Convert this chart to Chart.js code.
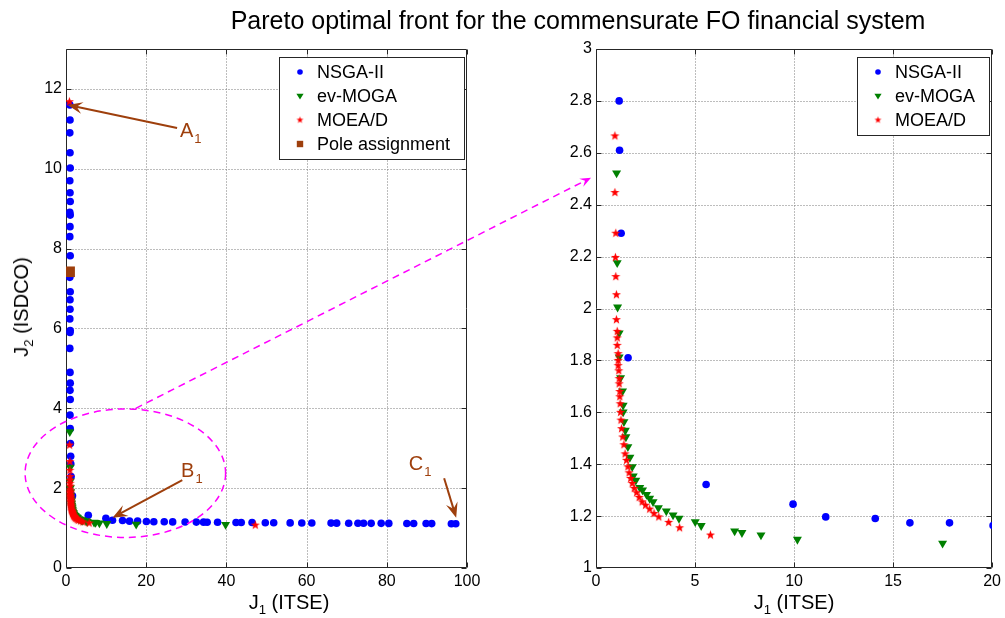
<!DOCTYPE html>
<html>
<head>
<meta charset="utf-8">
<title>Pareto optimal front</title>
<script src="https://cdn.jsdelivr.net/npm/chart.js@4.4.1/dist/chart.umd.min.js"></script>
<style>
  html, body { margin: 0; padding: 0; background: #fff; }
  #page { position: relative; width: 1005px; height: 618px; overflow: hidden;
          font-family: "Liberation Sans", Arial, sans-serif; color: #000; }
  canvas { position: absolute; top: 0; }
  #leftChart { left: 0; }
  #rightChart { left: 540px; }
  #overlay { left: 0; pointer-events: none; }
  .txt { position: absolute; white-space: nowrap; line-height: 1; transform: translate(-50%, -50%); }
  .txt sub { font-size: 0.66em; vertical-align: -0.35em; line-height: 0; }
  #title { left: 578px; top: 20px; font-size: 25px; }
  #xTitleL { left: 289px; top: 602px; font-size: 20px; }
  #xTitleR { left: 794px; top: 602px; font-size: 20px; }
  #yTitle { left: 21px; top: 307px; font-size: 20px; transform: translate(-50%, -50%) rotate(-90deg); }
</style>
</head>
<body>
<div id="page">
  <canvas id="leftChart" width="500" height="618"></canvas>
  <canvas id="rightChart" width="465" height="618"></canvas>
  <canvas id="overlay" width="1005" height="618"></canvas>
  <div class="txt" id="title">Pareto optimal front for the commensurate FO financial system</div>
  <div class="txt" id="xTitleL">J<sub>1</sub> (ITSE)</div>
  <div class="txt" id="xTitleR">J<sub>1</sub> (ITSE)</div>
  <div class="txt" id="yTitle">J<sub>2</sub> (ISDCO)</div>
</div>
<script>
// ---- Pareto front data (J1 = ITSE, J2 = ISDCO) ----
const nsgaJ1 = [0.95, 1.0, 0.95, 1.0, 1.05, 0.95, 1.0, 1.05, 0.95, 1.05, 1.0, 0.95, 1.05, 1.0, 0.95,
  1.05, 1.0, 1.0, 0.95, 1.05, 1.0, 0.95, 1.0, 1.05, 1.0, 1.05, 1.0, 1.05, 1.1, 1.17, 1.19, 1.27,
  1.62, 5.56, 9.95, 11.6, 14.1, 15.85, 17.85, 20.05, 21.9, 24.5, 26.6, 29.7, 32.5, 34.3, 35.2,
  37.8, 42.4, 43.7, 46.4, 49.7, 51.8, 55.9, 58.8, 61.3, 66.1, 67.5, 70.5, 72.8, 74.2, 76.1,
  78.6, 80.5, 85.0, 86.7, 89.8, 91.2, 96.1, 97.2];
const nsgaJ2 = [11.60, 11.22, 10.90, 10.40, 10.02, 9.70, 9.40, 9.18, 8.91, 8.84, 8.55, 8.30, 7.82,
  7.38, 7.28, 6.92, 6.72, 6.48, 6.24, 5.95, 5.90, 5.50, 4.90, 4.63, 4.45, 4.22, 3.83, 3.49, 3.12,
  2.80, 2.61, 2.29, 1.81, 1.322, 1.246, 1.197, 1.191, 1.174, 1.174, 1.164, 1.160, 1.158, 1.155,
  1.152, 1.150, 1.148, 1.147, 1.145, 1.140, 1.140, 1.138, 1.135, 1.133, 1.130, 1.128, 1.127,
  1.125, 1.124, 1.122, 1.121, 1.120, 1.119, 1.118, 1.117, 1.115, 1.114, 1.113, 1.112, 1.110, 1.110];

const evJ1 = [0.95, 1.04, 1.07, 1.09, 1.17, 1.17, 1.24, 1.34, 1.37, 1.37, 1.41, 1.48, 1.51, 1.61,
  1.71, 1.83, 1.88, 2.01, 2.21, 2.35, 2.55, 2.71, 2.88, 3.15, 3.55, 3.89, 4.19, 5.01, 5.31, 7.0,
  7.37, 8.33, 10.17, 17.5, 39.8];
const evJ2 = [3.41, 2.522, 2.176, 2.005, 1.905, 1.813, 1.733, 1.682, 1.627, 1.601, 1.563, 1.530,
  1.505, 1.467, 1.426, 1.390, 1.354, 1.338, 1.310, 1.300, 1.283, 1.268, 1.255, 1.232, 1.219, 1.204,
  1.191, 1.178, 1.163, 1.142, 1.136, 1.127, 1.110, 1.095, 1.090];

const moeadJ1 = [0.85, 0.9, 0.955, 0.955, 1.0, 0.98, 1.0, 1.03, 1.03, 1.07, 1.07, 1.07, 1.12, 1.12,
  1.12, 1.15, 1.17, 1.17, 1.2, 1.2, 1.22, 1.24, 1.26, 1.29, 1.35, 1.41, 1.47, 1.54, 1.61, 1.67,
  1.75, 1.83, 1.93, 2.05, 2.18, 2.33, 2.5, 2.71, 2.93, 3.17, 3.67, 4.22, 5.78, 47.2];
const moeadJ2 = [11.68, 3.08, 2.665, 2.447, 2.290, 2.197, 2.123, 2.053, 1.957, 1.912, 1.887, 1.858,
  1.826, 1.800, 1.780, 1.760, 1.730, 1.710, 1.680, 1.660, 1.633, 1.600, 1.570, 1.537, 1.505,
  1.475, 1.440, 1.415, 1.390, 1.367, 1.345, 1.326, 1.307, 1.290, 1.272, 1.255, 1.242, 1.227,
  1.210, 1.197, 1.176, 1.155, 1.127, 1.075];

const poleJ1 = [0.9];
const poleJ2 = [7.42];

const leftXTicks = [0, 20, 40, 60, 80, 100];
const leftYTicks = [0, 2, 4, 6, 8, 10, 12];
const rightXTicks = [0, 5, 10, 15, 20];
const rightYTicks = [1, 1.2, 1.4, 1.6, 1.8, 2, 2.2, 2.4, 2.6, 2.8, 3];

// ---- styling ----
const FONT = '"Liberation Sans", Arial, sans-serif';
const BLUE = '#0000ff', GREEN = '#008000', RED = '#ff0000', BROWN = '#9e3f0c', MAGENTA = '#ff00ff';

const pts = (xs, ys) => xs.map((v, i) => ({ x: v, y: ys[i] }));

function starCanvas(size, outer, inner, color) {
  const c = document.createElement('canvas');
  c.width = c.height = size;
  const g = c.getContext('2d');
  g.fillStyle = color;
  g.beginPath();
  for (let i = 0; i < 10; i++) {
    const r = i % 2 ? inner : outer;
    const a = -Math.PI / 2 + i * Math.PI / 5;
    const px = size / 2 + r * Math.cos(a), py = size / 2 + r * Math.sin(a);
    if (i) g.lineTo(px, py); else g.moveTo(px, py);
  }
  g.closePath();
  g.fill();
  return c;
}
const starBig = starCanvas(11, 4.8, 2.0, RED);
const starSmall = starCanvas(9, 3.6, 1.5, RED);

function makeDatasets(withPole) {
  const ds = [
    { label: 'NSGA-II', data: pts(nsgaJ1, nsgaJ2), pointStyle: 'circle', pointRadius: 3.8,
      backgroundColor: BLUE, borderColor: BLUE, pointBorderWidth: 0, order: 4, legendKind: 'circle' },
    { label: 'ev-MOGA', data: pts(evJ1, evJ2), pointStyle: 'triangle', pointRotation: 180, pointRadius: 5.2,
      backgroundColor: GREEN, borderColor: GREEN, pointBorderWidth: 0, order: 3, legendKind: 'triangle' },
    { label: 'MOEA/D', data: pts(moeadJ1, moeadJ2), pointStyle: starBig, pointRadius: 5,
      backgroundColor: RED, borderColor: RED, pointBorderWidth: 0, order: 2, legendKind: 'star' }
  ];
  if (withPole) {
    ds.push({ label: 'Pole assignment', data: pts(poleJ1, poleJ2), pointStyle: 'rect', pointRadius: 7.5,
      backgroundColor: BROWN, borderColor: BROWN, pointBorderWidth: 0, order: 1, legendKind: 'square' });
  }
  return ds;
}

// dotted grid, box and inward tick marks
const framePlugin = {
  id: 'frame',
  beforeDatasetsDraw(chart) {
    const { ctx, chartArea: a, scales: { x, y } } = chart;
    const L = Math.round(a.left) + 0.5, R = Math.round(a.right) - 0.5;
    const T = Math.round(a.top) + 0.5, B = Math.round(a.bottom) - 0.5;
    ctx.save();
    ctx.lineWidth = 1;
    ctx.strokeStyle = '#7a7a7a';
    ctx.setLineDash([1, 2]);
    ctx.beginPath();
    x.ticks.forEach(t => {
      const px = Math.round(x.getPixelForValue(t.value)) + 0.5;
      if (px > L + 1 && px < R - 1) { ctx.moveTo(px, T); ctx.lineTo(px, B); }
    });
    y.ticks.forEach(t => {
      const py = Math.round(y.getPixelForValue(t.value)) + 0.5;
      if (py > T + 1 && py < B - 1) { ctx.moveTo(L, py); ctx.lineTo(R, py); }
    });
    ctx.stroke();
    ctx.setLineDash([]);
    ctx.strokeStyle = '#262626';
    ctx.beginPath();
    ctx.rect(L, T, R - L, B - T);
    const tl = 5;
    x.ticks.forEach(t => {
      const px = Math.round(x.getPixelForValue(t.value)) + 0.5;
      ctx.moveTo(px, B); ctx.lineTo(px, B - tl);
      ctx.moveTo(px, T); ctx.lineTo(px, T + tl);
    });
    y.ticks.forEach(t => {
      const py = Math.round(y.getPixelForValue(t.value)) + 0.5;
      ctx.moveTo(L, py); ctx.lineTo(L + tl, py);
      ctx.moveTo(R, py); ctx.lineTo(R - tl, py);
    });
    ctx.stroke();
    ctx.restore();
  }
};

function drawLegendMarker(ctx, kind, cx, cy, color) {
  ctx.fillStyle = color;
  ctx.beginPath();
  if (kind === 'circle') {
    ctx.arc(cx, cy, 2.8, 0, Math.PI * 2); ctx.fill();
  } else if (kind === 'triangle') {
    ctx.moveTo(cx - 3.6, cy - 2.2); ctx.lineTo(cx + 3.6, cy - 2.2); ctx.lineTo(cx, cy + 3.4);
    ctx.closePath(); ctx.fill();
  } else if (kind === 'star') {
    ctx.drawImage(starSmall, cx - starSmall.width / 2, cy - starSmall.height / 2);
  } else if (kind === 'square') {
    ctx.fillRect(cx - 3.2, cy - 3.2, 6.4, 6.4);
  }
}

const legendPlugin = {
  id: 'boxLegend',
  afterDraw(chart) {
    const { ctx, chartArea: a } = chart;
    const items = chart.data.datasets;
    const fs = 18, rowH = 24, padV = 13;
    ctx.save();
    ctx.font = fs + 'px ' + FONT;
    const maxW = Math.max(...items.map(d => ctx.measureText(d.label).width));
    const w = Math.round(38 + maxW + 14);
    const h = Math.round(padV * 2 + rowH * (items.length - 1) + 4);
    const right = Math.round(a.right) - 3, top = Math.round(a.top) + 8;
    const left = right - w;
    ctx.fillStyle = '#fff';
    ctx.fillRect(left, top, w, h);
    ctx.strokeStyle = '#262626';
    ctx.lineWidth = 1;
    ctx.strokeRect(left + 0.5, top + 0.5, w, h);
    ctx.textBaseline = 'middle';
    items.forEach((d, i) => {
      const cy = top + padV + 2 + i * rowH;
      drawLegendMarker(ctx, d.legendKind, left + 21, cy, d.backgroundColor);
      ctx.fillStyle = '#000';
      ctx.fillText(d.label, left + 38, cy + 1);
    });
    ctx.restore();
  }
};

function drawArrow(ctx, x1, y1, x2, y2, color, lw, L, W, dash) {
  const dx = x2 - x1, dy = y2 - y1, len = Math.hypot(dx, dy);
  const ux = dx / len, uy = dy / len, nx = -uy, ny = ux;
  ctx.save();
  ctx.strokeStyle = color; ctx.fillStyle = color; ctx.lineWidth = lw;
  ctx.setLineDash(dash || []);
  ctx.beginPath();
  ctx.moveTo(x1, y1);
  ctx.lineTo(x2 - ux * L * 0.6, y2 - uy * L * 0.6);
  ctx.stroke();
  ctx.setLineDash([]);
  ctx.beginPath();
  ctx.moveTo(x2, y2);
  ctx.lineTo(x2 - ux * L + nx * W / 2, y2 - uy * L + ny * W / 2);
  ctx.lineTo(x2 - ux * L * 0.62, y2 - uy * L * 0.62);
  ctx.lineTo(x2 - ux * L - nx * W / 2, y2 - uy * L - ny * W / 2);
  ctx.closePath();
  ctx.fill();
  ctx.restore();
}

// labelled points on the front: [label, sub, labelX, labelY, tailX, tailY, headX, headY] in data units
const callouts = [
  ['A', '1', 28.4, 10.8, 27.7, 11.02, 0.4, 11.6],
  ['B', '1', 28.7, 2.28, 29.0, 2.2, 11.6, 1.26],
  ['C', '1', 85.5, 2.45, 94.3, 2.25, 97.3, 1.26]
];
// zoom region on the left panel: centre (J1, J2) and half-axes in data units
const zoomEllipse = { cx: 14.8, cy: 2.375, rx: 25.0, ry: 1.61 };

const annotatePlugin = {
  id: 'annotate',
  afterDatasetsDraw(chart) {
    const { ctx, scales: { x, y } } = chart;
    ctx.save();
    const cx = x.getPixelForValue(zoomEllipse.cx), cy = y.getPixelForValue(zoomEllipse.cy);
    const rx = x.getPixelForValue(zoomEllipse.cx + zoomEllipse.rx) - cx;
    const ry = cy - y.getPixelForValue(zoomEllipse.cy + zoomEllipse.ry);
    ctx.strokeStyle = MAGENTA; ctx.lineWidth = 1.5; ctx.setLineDash([7, 5]);
    ctx.beginPath(); ctx.ellipse(cx, cy, rx, ry, 0, 0, Math.PI * 2); ctx.stroke();
    ctx.setLineDash([]);
    callouts.forEach(([lab, sub, lx, ly, tx, ty, hx, hy]) => {
      drawArrow(ctx, x.getPixelForValue(tx), y.getPixelForValue(ty),
        x.getPixelForValue(hx), y.getPixelForValue(hy), BROWN, 2, 15, 12);
      const px = x.getPixelForValue(lx), py = y.getPixelForValue(ly);
      ctx.fillStyle = BROWN;
      ctx.textBaseline = 'alphabetic';
      ctx.font = '20px ' + FONT;
      ctx.fillText(lab, px, py);
      const w = ctx.measureText(lab).width;
      ctx.font = '13px ' + FONT;
      ctx.fillText(sub, px + w + 1, py + 6);
    });
    ctx.restore();
  }
};

function axisOpts(min, max, ticks, fmt, fixSize, isX) {
  return {
    type: 'linear', min: min, max: max,
    afterBuildTicks: s => { s.ticks = ticks.map(v => ({ value: v })); },
    afterFit: s => { if (isX) s.height = fixSize; else s.width = fixSize; },
    grid: { display: false, drawTicks: false },
    border: { display: false },
    ticks: { color: '#000', font: { family: FONT, size: 16 }, padding: 4,
             maxRotation: 0, autoSkip: false, callback: fmt }
  };
}

function makeChart(id, datasets, padding, xr, yr, yWidth, extraPlugins) {
  return new Chart(document.getElementById(id), {
    type: 'scatter',
    data: { datasets: datasets },
    options: {
      responsive: false, animation: false, devicePixelRatio: 1, events: [],
      layout: { padding: padding },
      plugins: { legend: { display: false }, tooltip: { enabled: false }, title: { display: false } },
      scales: {
        x: axisOpts(xr[0], xr[1], xr[2], v => String(v), 50, true),
        y: axisOpts(yr[0], yr[1], yr[2], v => String(+v.toFixed(1)), yWidth, false)
      }
    },
    plugins: [framePlugin].concat(extraPlugins)
  });
}

const leftChart = makeChart('leftChart', makeDatasets(true),
  { left: 0, top: 49, right: 33, bottom: 0 },
  [0, 100, leftXTicks], [0, 13, leftYTicks], 66, [annotatePlugin, legendPlugin]);

const rightChart = makeChart('rightChart', makeDatasets(false),
  { left: 0, top: 49, right: 11, bottom: 0 },
  [0, 20, rightXTicks], [1, 3, rightYTicks], 56, [legendPlugin]);

// dashed link from the zoom ellipse to the enlarged panel
function drawLink() {
  const ov = document.getElementById('overlay').getContext('2d');
  const lx = leftChart.scales.x, ly = leftChart.scales.y;
  const rx = rightChart.scales.x, ry = rightChart.scales.y;
  const x1 = lx.getPixelForValue(17.4), y1 = ly.getPixelForValue(4.0);
  const x2 = 540 + rx.getPixelForValue(-0.25), y2 = ry.getPixelForValue(2.504);
  ov.clearRect(0, 0, 1005, 618);
  drawArrow(ov, x1, y1, x2, y2, MAGENTA, 1.5, 11, 9, [7, 5]);
}
drawLink();
</script>
</body>
</html>
